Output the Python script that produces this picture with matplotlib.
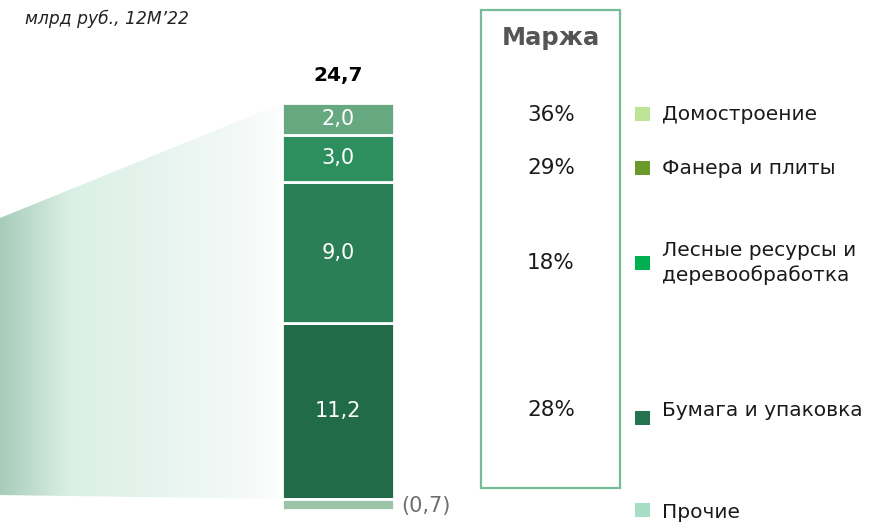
import numpy as np
import matplotlib
matplotlib.use("Agg")
import matplotlib.pyplot as plt
from matplotlib.patches import Rectangle, Polygon
from matplotlib.colors import LinearSegmentedColormap

plt.rcParams['font.family'] = ['DejaVu Sans']

# ---- data ----
segments = ["Бумага и упаковка", "Лесные ресурсы и\nдеревообработка", "Фанера и плиты", "Домостроение"]
seg_values = [11.2, 9.0, 3.0, 2.0]
seg_labels = ["11,2", "9,0", "3,0", "2,0"]
other_name = "Прочие"
other_value = -0.7
other_label = "(0,7)"
total_label = "24,7"
margins = ["28%", "18%", "29%", "36%"]
unit_label = "млрд руб., 12М’22"
margin_title = "Маржа"

# ---- styles ----
bar_colors = ["#226B48", "#2B7F57", "#2E8F5E", "#66A880"]
other_bar_color = "#9CC4A8"
legend_colors = {"Домостроение": "#BDE396", "Фанера и плиты": "#6A9A2A",
                 "Лесные ресурсы и\nдеревообработка": "#00B050",
                 "Бумага и упаковка": "#267350", "Прочие": "#A5DEC4"}

W, H = 873, 522
S = 15.7          # px per unit
BASE = 499        # baseline px from top

fig = plt.figure(figsize=(W / 100, H / 100), dpi=100)
ax = fig.add_axes([0, 0, 1, 1])
ax.set_xlim(0, W)
ax.set_ylim(-(H - BASE) / S, BASE / S)
ax.axis("off")

def py(ypx):
    return (BASE - ypx) / S

bar_x, bar_w = 338, 112
bottoms = np.concatenate([[0], np.cumsum(seg_values)[:-1]])
ax.bar([bar_x] * len(seg_values), seg_values, bottom=bottoms, width=bar_w,
       color=bar_colors, edgecolor="white", linewidth=2, zorder=3)
ax.bar([bar_x], [other_value], bottom=0, width=bar_w, color=other_bar_color,
       edgecolor="white", linewidth=2, zorder=3)

for b, v, lab in zip(bottoms, seg_values, seg_labels):
    ax.text(bar_x, b + v / 2, lab, color="white", ha="center", va="center", fontsize=15, zorder=4)

total_pos = sum(seg_values)
ax.text(bar_x, py(75), total_label, ha="center", va="center", fontsize=14.5, fontweight="bold", color="black")
ax.text(401, other_value / 2 - 0.1, other_label, ha="left", va="center", fontsize=15, color="#6F6F6F")

# gradient funnel
left_x, right_x = 0, bar_x - bar_w / 2
poly = Polygon([(left_x, py(495)), (right_x, 0), (right_x, total_pos), (left_x, py(218))],
               closed=True, facecolor="none", edgecolor="none")
ax.add_patch(poly)
cmap = LinearSegmentedColormap.from_list("g", [(0, "#A8CCBA"), (0.25, "#DAF0E6"),
                                               (0.55, "#E6F4EE"), (0.85, "#F3F9F6"), (1, "#FDFEFE")])
grad = np.linspace(0, 1, 256).reshape(1, -1)
im = ax.imshow(grad, cmap=cmap, aspect="auto", extent=[left_x, right_x, -0.2, total_pos + 0.5], zorder=1)
im.set_clip_path(poly)

# unit label
fig.text(25 / W, 1 - 19 / H, unit_label, fontsize=12.3, style="italic", color="#222222", ha="left", va="center")

# margin box
box = Rectangle((481 / W, 1 - 488 / H), (620 - 481) / W, (488 - 10) / H, transform=fig.transFigure,
                facecolor="none", edgecolor="#74BD98", linewidth=1.6)
fig.patches.append(box)
fig.text(551 / W, 1 - 38 / H, margin_title, fontsize=17.5, fontweight="bold", color="#555555", ha="center", va="center")
margin_y = [410, 263, 168, 115]
for m, y in zip(margins, margin_y):
    fig.text(551 / W, 1 - y / H, m, fontsize=15.5, color="#1A1A1A", ha="center", va="center")

# legend
leg_items = [("Домостроение", 114, 114), ("Фанера и плиты", 168, 168),
             ("Лесные ресурсы и\nдеревообработка", 263, 263),
             ("Бумага и упаковка", 410, 418), (other_name, 512, 510)]
for name, ty, my in leg_items:
    fig.patches.append(Rectangle((635 / W, 1 - (my + 7) / H), 15 / W, 14 / H, transform=fig.transFigure,
                                 facecolor=legend_colors[name], edgecolor="none"))
    fig.text(662 / W, 1 - ty / H, name, fontsize=14.5, color="#1A1A1A", ha="left", va="center", linespacing=1.3)

fig.savefig("out.png", dpi=100)
